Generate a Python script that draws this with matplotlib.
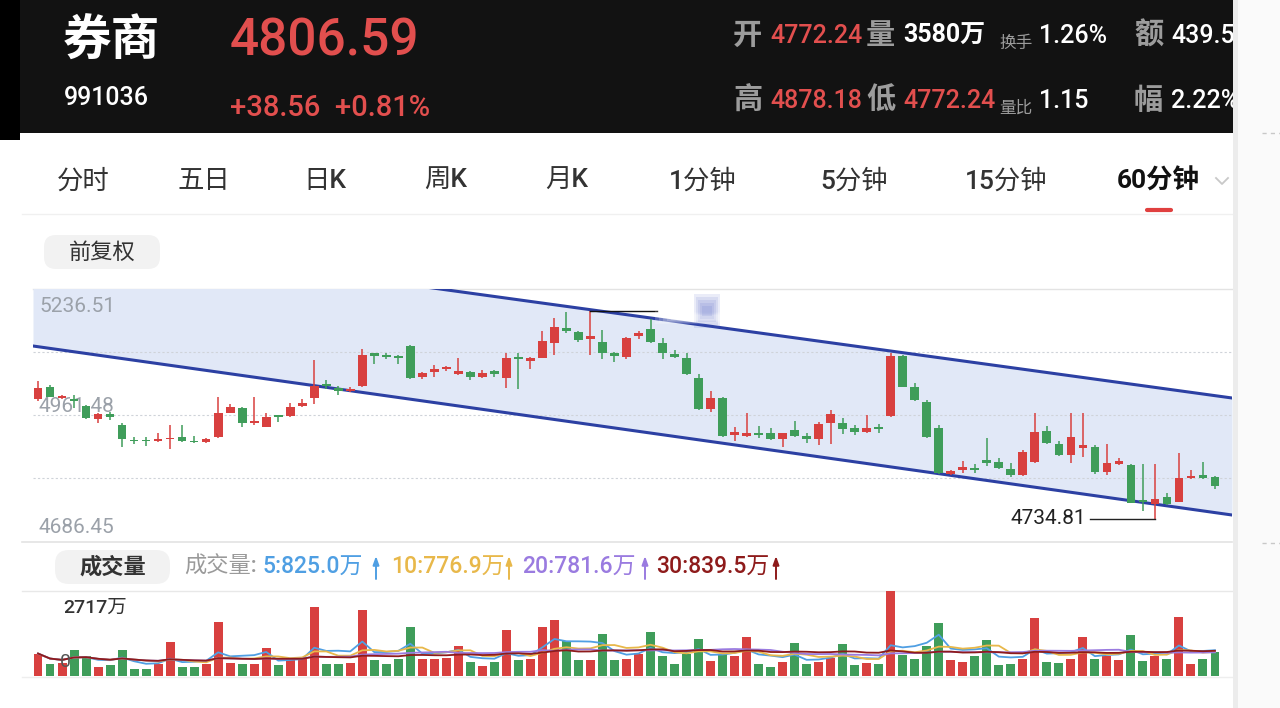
import numpy as np
import pandas as pd
import matplotlib
matplotlib.use('Agg')
import matplotlib.pyplot as plt
from matplotlib.patches import Rectangle, FancyBboxPatch

W, H = 1280, 708

# ---- 60分钟 K线数据 (读自截图) ----
opens = [4995.7, 5023.3, 4999.3, 4995.7, 4981.1, 4953.5, 4962.9, 4939.7, 4906.9, 4907.5,
         4904.0, 4908.4, 4914.2, 4905.5, 4902.5, 4912.7, 4966.6, 4977.5, 4943.3, 4936.0,
         4961.5, 4959.3, 4981.1, 4997.9, 5029.2, 5019.7, 5013.1, 5024.8, 5096.1, 5092.4,
         5090.3, 5112.1, 5043.7, 5056.1, 5061.2, 5051.0, 5054.6, 5043.7, 5057.5, 5041.5,
         5087.4, 5080.1, 5086.6, 5119.4, 5150.7, 5142.7, 5126.6, 5121.6, 5096.1, 5087.4,
         5133.9, 5148.5, 5119.4, 5094.6, 5085.2, 5041.5, 4973.9, 4997.9, 4917.8, 4915.6,
         4922.9, 4921.5, 4908.4, 4928.7, 4915.6, 4908.4, 4944.8, 4943.3, 4932.4, 4925.1,
         4936.0, 4959.3, 5090.3, 5021.9, 4990.6, 4932.4, 4832.7, 4841.4, 4846.5, 4863.3,
         4859.6, 4842.9, 4830.5, 4859.6, 4927.3, 4898.2, 4874.2, 4890.2, 4890.9, 4837.8,
         4854.5, 4852.3, 4776.0, 4767.2, 4783.2, 4772.24, 4823.2, 4830.5, 4826.9]
highs = [5036.4, 5027.0, 5005.9, 5005.1, 4983.3, 4966.6, 4967.3, 4943.3, 4912.7, 4914.2,
         4922.9, 4939.7, 4939.7, 4915.6, 4910.5, 5001.5, 4985.5, 4979.7, 5001.5, 4965.1,
         4962.5, 4987.0, 4996.4, 5081.5, 5037.9, 5024.8, 5021.9, 5104.8, 5097.5, 5096.1,
         5092.4, 5114.3, 5056.1, 5070.6, 5069.2, 5085.2, 5058.3, 5059.7, 5059.7, 5097.5,
         5097.5, 5087.4, 5145.6, 5172.5, 5186.0, 5145.6, 5189.0, 5147.0, 5099.7, 5131.0,
         5145.6, 5170.3, 5128.8, 5103.4, 5096.1, 5051.0, 5014.6, 5000.0, 4936.0, 4965.1,
         4937.5, 4932.4, 4922.9, 4949.1, 4922.9, 4946.9, 4972.4, 4954.2, 4939.7, 4961.5,
         4941.8, 5097.5, 5092.4, 5032.1, 4994.2, 4939.7, 4841.4, 4861.8, 4854.5, 4910.5,
         4866.9, 4857.4, 4885.1, 4965.1, 4937.5, 4905.5, 4966.6, 4966.6, 4895.3, 4898.2,
         4866.9, 4854.5, 4854.5, 4854.5, 4790.5, 4878.18, 4841.4, 4859.6, 4828.3]
lows = [4992.8, 5000.0, 4995.7, 4976.0, 4952.0, 4944.8, 4950.6, 4892.4, 4898.2, 4893.8,
        4902.5, 4886.5, 4903.3, 4899.6, 4901.1, 4911.3, 4965.1, 4934.6, 4939.7, 4934.6,
        4946.9, 4957.8, 4979.7, 4985.5, 5017.5, 5005.1, 5011.7, 5023.0, 5072.8, 5083.0,
        5072.8, 5040.8, 5040.1, 5043.7, 5058.3, 5048.8, 5037.9, 5042.2, 5045.2, 5019.7,
        5019.0, 5061.2, 5085.2, 5092.4, 5139.7, 5121.6, 5092.4, 5083.0, 5077.2, 5083.0,
        5126.6, 5119.4, 5083.0, 5085.2, 5048.8, 4972.4, 4968.8, 4914.0, 4905.5, 4912.7,
        4910.5, 4906.9, 4892.4, 4912.7, 4899.6, 4896.0, 4898.2, 4920.0, 4917.8, 4922.9,
        4922.9, 4957.8, 5021.9, 4992.8, 4912.0, 4832.7, 4830.5, 4834.2, 4835.6, 4850.2,
        4842.9, 4825.4, 4828.3, 4856.0, 4898.2, 4872.0, 4856.0, 4870.5, 4832.7, 4830.5,
        4852.3, 4768.7, 4752.7, 4734.81, 4766.0, 4772.24, 4821.8, 4821.1, 4800.0]
closes = [5019.7, 5001.5, 5003.0, 4992.0, 4954.2, 4962.9, 4957.8, 4908.4, 4904.0, 4904.5,
          4909.8, 4911.3, 4905.5, 4901.8, 4908.4, 4965.1, 4979.7, 4944.8, 4949.1, 4957.8,
          4956.4, 4979.7, 4987.0, 5024.8, 5024.8, 5014.6, 5019.0, 5092.4, 5090.3, 5087.4,
          5085.2, 5043.0, 5052.4, 5061.2, 5067.0, 5058.3, 5043.7, 5053.9, 5050.2, 5085.2,
          5083.0, 5086.6, 5123.0, 5154.3, 5145.6, 5125.2, 5134.6, 5097.5, 5091.0, 5128.8,
          5139.7, 5121.6, 5097.5, 5087.4, 5051.0, 4973.9, 4997.9, 4915.6, 4925.1, 4922.9,
          4917.1, 4908.4, 4921.5, 4915.6, 4908.4, 4941.8, 4963.7, 4930.2, 4925.1, 4933.8,
          4930.2, 5090.3, 5023.3, 4994.2, 4912.7, 4834.2, 4839.3, 4847.3, 4841.4, 4856.0,
          4845.1, 4830.5, 4881.4, 4925.1, 4901.1, 4874.2, 4914.2, 4895.3, 4837.8, 4856.0,
          4860.3, 4770.1, 4771.6, 4778.1, 4767.2, 4823.2, 4828.3, 4823.2, 4806.59]
# 成交量 (万)
volumes = [718, 397, 429, 825, 643, 289, 343, 847, 236, 236,
           375, 1072, 300, 300, 375, 1737, 429, 397, 397, 890,
           343, 536, 536, 2219, 375, 375, 429, 2112, 525, 397,
           547, 1576, 536, 536, 590, 943, 450, 322, 461, 1469,
           525, 557, 1576, 1790, 1104, 515, 515, 1340, 504, 536,
           697, 1415, 643, 375, 697, 1179, 482, 697, 643, 1233,
           397, 289, 450, 1051, 397, 450, 590, 1018, 354, 429,
           397, 2717, 675, 557, 965, 1683, 504, 461, 643, 1147,
           343, 375, 557, 1844, 461, 407, 536, 1233, 536, 650,
           500, 1300, 480, 650, 545, 1900, 375, 530, 775]

price_top, price_bottom = 5236.51, 4686.45
vol_max = 2717
low_mark = 4734.81
high_mark = 5189.0

# 通道线 (手绘趋势线的两端)
channel_x = [-0.42, 99.42]
channel_upper = [5358.8, 4998.6]
channel_lower = [5112.1, 4743.2]

ma_periods = [5, 10, 20, 30]
ma_colors = ['#4f9fe3', '#e8b84a', '#9a7be0', '#8e1b1b']
ma_labels = ['5:825.0万', '10:776.9万', '20:781.6万', '30:839.5万']
ma_label_x = [262, 391, 522, 656]
ma_arrow_x = [376, 509, 645, 776]

tabs = ['分时', '五日', '日K', '周K', '月K', '1分钟', '5分钟', '15分钟', '60分钟']
tab_x = [83, 204, 325, 446, 567, 703, 854, 1006, 1158]

RED = '#d8403f'
GREEN = '#3f9d5a'
HRED = '#e24f4e'
NUM = ['Roboto', 'Noto Sans CJK SC', 'DejaVu Sans']
CJK = ['Noto Sans CJK SC', 'DejaVu Sans']


def box(x0, y0, x1, y1):
    return [x0 / W, 1 - y1 / H, (x1 - x0) / W, (y1 - y0) / H]


fig = plt.figure(figsize=(12.8, 7.08), dpi=100)
fig.patch.set_facecolor('white')

# 背景层 (像素坐标)
bg = fig.add_axes([0, 0, 1, 1], zorder=0)
bg.set_xlim(0, W)
bg.set_ylim(H, 0)
bg.axis('off')


def rect(x0, y0, x1, y1, color, z=1, **kw):
    bg.add_patch(Rectangle((x0, y0), x1 - x0, y1 - y0, facecolor=color,
                           edgecolor='none', zorder=z, **kw))


def txt(x, y, s, size, color, ha='left', weight='normal', family=NUM, z=5):
    bg.text(x, y, s, fontsize=size, color=color, ha=ha, va='center',
            fontweight=weight, family=family, zorder=z)


# 顶部行情栏
rect(0, 0, 1233, 133, '#121212')
rect(0, 0, 20, 140, '#000000', z=2)
txt(63, 41, '券商', 35, 'white', weight='bold', family=CJK)
txt(230, 42, '4806.59', 37, HRED, weight='medium')
txt(64, 98, '991036', 18, 'white', weight='medium')
txt(230, 108, '+38.56  +0.81%', 21, HRED, weight='medium')

GREY = '#9c9c9c'
txt(733, 35, '开', 21, GREY, weight='bold', family=CJK)
txt(770, 36, '4772.24', 18, HRED, weight='medium')
txt(866, 35, '量', 21, GREY, weight='bold', family=CJK)
txt(903, 36, '3580万', 18, 'white', weight='bold')
txt(999, 43, '换手', 12, GREY, family=CJK)
txt(1039, 36, '1.26%', 18, 'white', weight='medium')
txt(1134, 35, '额', 21, GREY, weight='bold', family=CJK)
txt(1171, 36, '439.53亿', 18, 'white', weight='medium')
txt(733, 100, '高', 21, GREY, weight='bold', family=CJK)
txt(770, 101, '4878.18', 18, HRED, weight='medium')
txt(866, 100, '低', 21, GREY, weight='bold', family=CJK)
txt(903, 101, '4772.24', 18, HRED, weight='medium')
txt(999, 108, '量比', 12, GREY, family=CJK)
txt(1039, 101, '1.15', 18, 'white', weight='medium')
txt(1134, 100, '幅', 21, GREY, weight='bold', family=CJK)
txt(1171, 101, '2.22%', 18, 'white', weight='medium')

# 右侧边栏遮挡
rect(1233, 0, W, H, '#fafafa', z=10)
rect(1233, 0, 1238, H, '#ececec', z=11)
bg.plot([1262, W], [133, 133], color='#c8c8c8', lw=1, ls=(0, (3, 3)), zorder=12)
bg.plot([1262, W], [543, 543], color='#c8c8c8', lw=1, ls=(0, (3, 3)), zorder=12)

# 周期标签
for name, tx in zip(tabs, tab_x):
    if name == '60分钟':
        txt(tx, 181, name, 19, '#111111', ha='center', weight='bold')
    else:
        txt(tx, 181, name, 19, '#333333', ha='center', weight='medium')
bg.plot([1147, 1171], [210, 210], color='#e0403f', lw=3, solid_capstyle='round', zorder=3)
bg.plot([1216, 1222, 1228], [178, 184, 178], color='#c8c8c8', lw=1.3, zorder=3)
bg.plot([22, 1233], [214, 214], color='#f0f0f0', lw=1, zorder=2)

# 前复权按钮
bg.add_patch(FancyBboxPatch((44, 235), 116, 34, boxstyle='round,pad=0,rounding_size=12',
                            facecolor='#f2f2f2', edgecolor='none', zorder=2))
txt(102, 252, '前复权', 16, '#333333', ha='center', weight='medium', family=CJK)

# 分隔线
bg.plot([33, 1232], [289, 289], color='#e3e3e3', lw=1, zorder=2)
bg.plot([22, 1232], [541.5, 541.5], color='#e3e3e3', lw=1.2, zorder=2)
bg.plot([22, 1232], [590.5, 590.5], color='#e8e8e8', lw=1, zorder=2)
bg.plot([22, 1232], [676.5, 676.5], color='#eeeeee', lw=1, zorder=2)

# 成交量标题
bg.add_patch(FancyBboxPatch((55, 550), 115, 34, boxstyle='round,pad=0,rounding_size=14',
                            facecolor='#f2f2f2', edgecolor='none', zorder=2))
txt(113, 567, '成交量', 16, '#333333', ha='center', weight='bold', family=CJK)
txt(184, 567, '成交量:', 16, '#9a9a9a', weight='medium', family=NUM)
for lab, lx, arr_x, col in zip(ma_labels, ma_label_x, ma_arrow_x, ma_colors):
    txt(lx, 567, lab, 16.5, col, weight='medium', family=NUM)
    bg.annotate('', xy=(arr_x, 556), xytext=(arr_x, 579), zorder=5,
                arrowprops=dict(arrowstyle='-|>,head_length=0.5,head_width=0.18',
                                color=col, lw=1.4, shrinkA=0, shrinkB=0))

# ---- K线图 ----
x = np.arange(len(opens))
o = np.array(opens)
c = np.array(closes)
hi = np.array(highs)
lo = np.array(lows)
up = c >= o
cols = np.where(up, RED, GREEN)

ax = fig.add_axes(box(33, 289, 1232, 541), zorder=1)
ax.set_facecolor('none')
ax.set_xlim(-0.42, 99.42)
ax.set_ylim(price_bottom, price_top)
for s in ax.spines.values():
    s.set_visible(False)
ax.set_xticks([])
ax.set_yticks([])

ax.fill_between(channel_x, channel_lower, channel_upper, color='#e1e8f7', zorder=0, lw=0)
step = (price_top - price_bottom) / 4
for k in range(1, 4):
    ax.axhline(price_top - k * step, color='#cfd3d9', lw=0.8, ls=(0, (2, 2)), zorder=1)
ax.plot(channel_x, channel_upper, color='#2c40a3', lw=2.2, zorder=2)
ax.plot(channel_x, channel_lower, color='#2c40a3', lw=2.2, zorder=2)

ax.text(0.005, 0.93, '%.2f' % price_top, transform=ax.transAxes, fontsize=15,
        color='#9ba1a9', family=NUM, va='center', zorder=1.5)
ax.text(0.005, 0.535, '%.2f' % ((price_top + price_bottom) / 2), transform=ax.transAxes,
        fontsize=15, color='#9ba1a9', family=NUM, va='center', zorder=1.5)
ax.text(0.005, 0.055, '%.2f' % price_bottom, transform=ax.transAxes, fontsize=15,
        color='#9ba1a9', family=NUM, va='center', zorder=1.5)

ax.vlines(x, lo, hi, colors=cols, lw=1.1, zorder=4)
body = np.maximum(np.abs(c - o), 2.2)
ax.bar(x, body, bottom=np.minimum(o, c), width=0.72, color=cols, zorder=5, lw=0)

# 最高/最低标注
i_low = int(np.argmin(lo))
ax.plot([87.6, i_low], [low_mark, low_mark], color='#222222', lw=1, zorder=6)
ax.text(87.3, low_mark, '%.2f' % low_mark, fontsize=15, color='#222222',
        family=NUM, ha='right', va='center', zorder=6)
i_high = int(np.argmax(hi))
ax.plot([i_high, 51.5], [high_mark, high_mark], color='#111111', lw=1, zorder=6)

# ---- 成交量 ----
vax = fig.add_axes(box(33, 591, 1232, 676), zorder=1)
vax.set_facecolor('none')
vax.set_xlim(-0.42, 99.42)
vax.set_ylim(0, vol_max)
for s in vax.spines.values():
    s.set_visible(False)
vax.set_xticks([])
vax.set_yticks([])
vax.bar(x, volumes, width=0.74, color=cols, lw=0, zorder=2)
vs = pd.Series(volumes, dtype=float)
for p, col in zip(ma_periods, ma_colors):
    vax.plot(x, vs.rolling(p, min_periods=1).mean(), color=col, lw=1.3, zorder=3)
vax.text(0.025, 0.8, '2717万', transform=vax.transAxes, fontsize=14, color='#333333',
         family=NUM, weight='medium', va='center', zorder=4)
vax.text(0.022, 0.17, '0', transform=vax.transAxes, fontsize=14, color='#555555',
         family=NUM, va='center', zorder=4)

# 模糊遮挡的最高价标签
top = fig.add_axes([0, 0, 1, 1], zorder=5)
top.set_xlim(0, W)
top.set_ylim(H, 0)
top.axis('off')
for k in range(5):
    top.add_patch(Rectangle((655 + 4 * k, 311 + k), 90 - 8 * k, 13 - 2 * k,
                            facecolor='white', alpha=0.18, edgecolor='none'))
    top.add_patch(Rectangle((694 + 2 * k, 294 + 3 * k), 26 - 4 * k, 34 - 6 * k,
                            facecolor='#5467c6', alpha=0.12, edgecolor='none'))

fig.savefig('out.png', dpi=100)
